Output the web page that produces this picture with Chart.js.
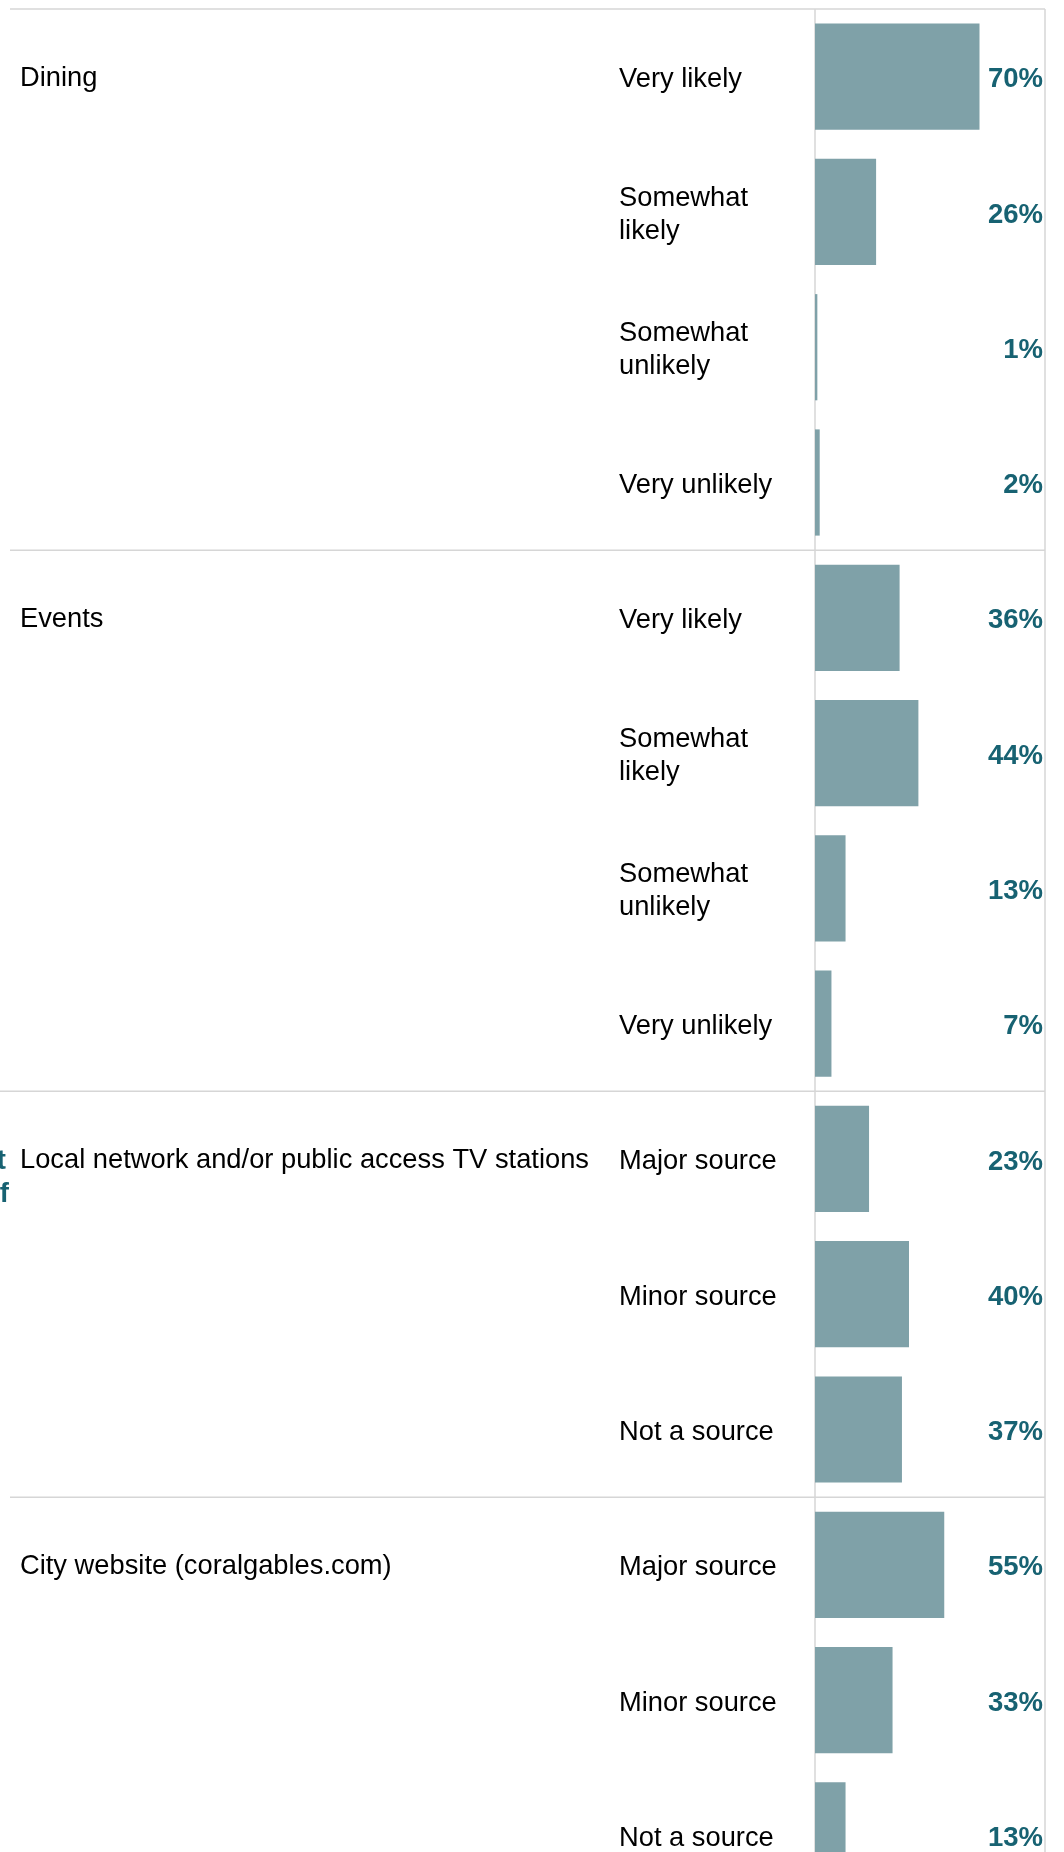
<!DOCTYPE html>
<html>
<head>
<meta charset="utf-8">
<title>Likelihood and information sources</title>
<script src="https://cdn.jsdelivr.net/npm/chart.js@4.4.1/dist/chart.umd.min.js"></script>
<style>
  html, body { margin: 0; padding: 0; overflow: hidden; background: #fff; }
  #wrap { position: relative; width: 1064px; height: 1905px; }
</style>
</head>
<body>
<div id="wrap"><canvas id="survey-chart"></canvas></div>
<script>
// Survey answers, grouped by topic
const topics = ['Dining', 'Events', 'Local network and/or public access TV stations', 'City website (coralgables.com)'];
const likelyAnswers = ['Very likely', 'Somewhat likely', 'Somewhat unlikely', 'Very unlikely'];
const sourceAnswers = ['Major source', 'Minor source', 'Not a source'];
const diningValues = [70, 26, 1, 2];
const eventsValues = [36, 44, 13, 7];
const tvValues = [23, 40, 37];
const websiteValues = [55, 33, 13];
// outer question label, only its tail is visible at the left edge
const sectionLabel = ['Sources of information about', 'the City of'];

const FONT = '"Liberation Sans", Arial, Helvetica, sans-serif';
const BAR_COLOR = '#7fa1a8';
const VALUE_COLOR = '#176272';
const RULE_COLOR = '#d6d6d6';

// flatten groups into one row list for the bar chart
const groups = [
  { topic: topics[0], answers: likelyAnswers, values: diningValues },
  { topic: topics[1], answers: likelyAnswers, values: eventsValues },
  { topic: topics[2], answers: sourceAnswers, values: tvValues, newSection: true },
  { topic: topics[3], answers: sourceAnswers, values: websiteValues }
];
const rowLabels = [];
const rowValues = [];
const groupStarts = [];
groups.forEach(g => {
  groupStarts.push(rowLabels.length);
  g.answers.forEach((a, i) => {
    rowLabels.push(a);
    rowValues.push(g.values[i]);
  });
});

function wrapText(ctx, text, maxWidth) {
  const words = text.split(' ');
  const lines = [];
  let line = '';
  words.forEach(w => {
    const test = line ? line + ' ' + w : w;
    if (line && ctx.measureText(test).width > maxWidth) {
      lines.push(line);
      line = w;
    } else {
      line = test;
    }
  });
  if (line) lines.push(line);
  return lines;
}

// rules, row labels and value labels
const tablePlugin = {
  id: 'tableLayout',
  beforeDatasetsDraw(chart) {
    const { ctx, chartArea, scales } = chart;
    const y = scales.y;
    const rightEdge = chartArea.right - 5;
    const half = (y.getPixelForValue(1) - y.getPixelForValue(0)) / 2;

    ctx.save();
    ctx.strokeStyle = RULE_COLOR;
    ctx.lineWidth = 1.5;
    // top rule
    ctx.beginPath();
    ctx.moveTo(10, chartArea.top);
    ctx.lineTo(rightEdge, chartArea.top);
    ctx.stroke();
    // group separators
    groupStarts.forEach((start, gi) => {
      if (start === 0) return;
      const yy = y.getPixelForValue(start) - half;
      ctx.beginPath();
      ctx.moveTo(groups[gi].newSection ? 0 : 10, yy);
      ctx.lineTo(rightEdge, yy);
      ctx.stroke();
    });
    // axis line and right border
    ctx.beginPath();
    ctx.moveTo(chartArea.left, chartArea.top);
    ctx.lineTo(chartArea.left, chartArea.bottom);
    ctx.moveTo(rightEdge, chartArea.top);
    ctx.lineTo(rightEdge, chartArea.bottom);
    ctx.stroke();
    ctx.restore();
  },
  afterDatasetsDraw(chart) {
    const { ctx, chartArea, scales } = chart;
    const y = scales.y;
    const lineH = 33;

    ctx.save();
    ctx.textBaseline = 'middle';
    ctx.fillStyle = '#000';
    ctx.font = '27.3px ' + FONT;
    ctx.textAlign = 'left';

    // topic labels on the first row of each group
    groups.forEach((g, gi) => {
      ctx.fillText(g.topic, 20, y.getPixelForValue(groupStarts[gi]) + 2);
    });

    // answer labels, wrapped
    rowLabels.forEach((lab, i) => {
      const lines = wrapText(ctx, lab, 185);
      const cy = y.getPixelForValue(i) + 3;
      const start = cy - (lines.length - 1) * lineH / 2;
      lines.forEach((ln, k) => ctx.fillText(ln, 619, start + k * lineH));
    });

    // values at the right edge
    ctx.font = 'bold 27.5px ' + FONT;
    ctx.fillStyle = VALUE_COLOR;
    ctx.textAlign = 'right';
    rowValues.forEach((v, i) => {
      ctx.fillText(v + '%', chartArea.right - 7, y.getPixelForValue(i) + 3);
    });

    // outer section label, clipped by the left edge
    const sy = y.getPixelForValue(groupStarts[2]) + 2;
    ctx.fillText(sectionLabel[0], 6, sy);
    ctx.fillText(sectionLabel[1], 9, sy + 33);
    ctx.restore();
  }
};

const chart = new Chart(document.getElementById('survey-chart'), {
  type: 'bar',
  data: {
    labels: rowLabels,
    datasets: [{
      data: rowValues,
      backgroundColor: BAR_COLOR,
      borderWidth: 0,
      barPercentage: 0.785,
      categoryPercentage: 1
    }]
  },
  options: {
    indexAxis: 'y',
    responsive: true,
    maintainAspectRatio: false,
    animation: false,
    layout: { padding: { left: 815, right: 14, top: 9, bottom: 2 } },
    scales: {
      x: { display: false, min: 0, max: 100 },
      y: { display: false }
    },
    plugins: {
      legend: { display: false },
      tooltip: { enabled: false }
    }
  },
  plugins: [tablePlugin]
});
</script>
</body>
</html>
